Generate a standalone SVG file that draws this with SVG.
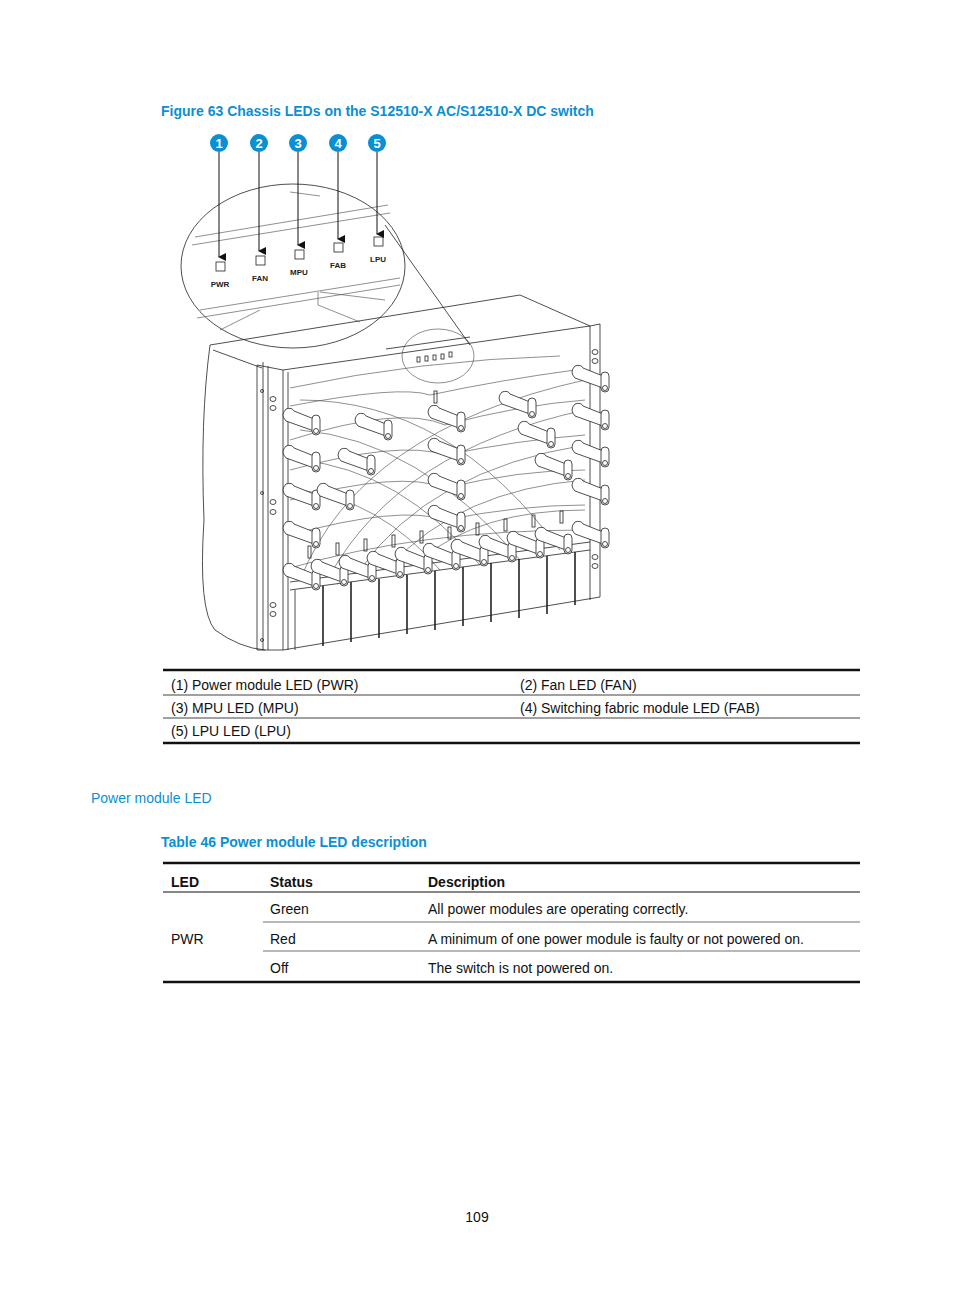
<svg xmlns="http://www.w3.org/2000/svg" width="954" height="1296" viewBox="0 0 954 1296">
<style>
.t{font-family:"Liberation Sans",Arial,sans-serif;font-size:14px;fill:#111}
.b{font-weight:bold}
.blue{fill:#0b8fd3}
.ln{stroke:#222;stroke-width:0.8;fill:none}
.lt{stroke:#444;stroke-width:0.6;fill:none}
.hd{stroke:#222;stroke-width:0.8;fill:#fff}
.badge{fill:#0b8fd3}
.bn{font-family:"Liberation Sans",Arial,sans-serif;font-size:13px;font-weight:bold;fill:#fff;text-anchor:middle}
.ll{font-family:"Liberation Sans",Arial,sans-serif;font-size:8px;font-weight:bold;fill:#222;text-anchor:middle}
</style>
<defs>
<marker id="ah" markerWidth="8" markerHeight="8" refX="4" refY="7" orient="auto" markerUnits="userSpaceOnUse"><path d="M0,0 L8,0 L4,8 Z" fill="#111"/></marker>
<g id="hdl">
<path class="hd" d="M-6,-6 Q-12,0 -6,6 L22,16 L22,4 L2,-4 Q0,-8 -6,-6 Z"/>
<rect class="hd" x="20" y="0" width="8" height="20" rx="4"/>
<circle class="ln" cx="24" cy="16" r="2.5"/>
</g>
</defs>
<rect width="954" height="1296" fill="#fff"/>
<text class="t b blue" x="161" y="116" font-size="16">Figure 63 Chassis LEDs on the S12510-X AC/S12510-X DC switch</text>

<g id="chassis">
<!-- body -->
<path class="ln" d="M210,345 Q200,420 204,520 Q198,610 215,630 Q240,648 265,650"/>
<path class="ln" d="M210,345 L520,295 L590,326"/>
<path class="ln" d="M213,350 L262,368"/>
<path class="ln" d="M283,370 L590,326 L600,324 L600,597 L283,650 Z"/>
<path class="ln" d="M257,365 L257,650 L283,650 M263,362 L263,650 M268,366 L268,650 M257,365 L283,370"/>
<path class="ln" d="M288,372 L288,650" stroke-width="2"/>
<path class="ln" d="M590,326 L590,600" stroke-width="2"/>
<path class="ln" d="M386,349 L470,337"/>
<ellipse class="lt" cx="438" cy="356" rx="36" ry="27"/>
<g class="ln">
<rect x="417" y="357" width="3" height="5"/><rect x="425" y="356" width="3" height="5"/><rect x="433" y="355" width="3" height="5"/><rect x="441" y="354" width="3" height="5"/><rect x="449" y="352" width="3" height="5"/>
</g>
<!-- rail holes -->
<g class="ln">
<ellipse cx="273" cy="399" rx="3" ry="2.5"/><ellipse cx="273" cy="408" rx="3" ry="2.5"/>
<ellipse cx="273" cy="502" rx="3" ry="2.5"/><ellipse cx="273" cy="512" rx="3" ry="2.5"/>
<ellipse cx="273" cy="605" rx="3" ry="2.5"/><ellipse cx="273" cy="614" rx="3" ry="2.5"/>
<ellipse cx="595" cy="352" rx="3" ry="2.5"/><ellipse cx="595" cy="361" rx="3" ry="2.5"/>
<ellipse cx="595" cy="557" rx="3" ry="2.5"/><ellipse cx="595" cy="566" rx="3" ry="2.5"/>
<circle cx="262" cy="391" r="1.5"/><circle cx="262" cy="493" r="1.5"/><circle cx="262" cy="640" r="1.5"/>
</g>
<!-- wavy horizontal lines -->
<g class="lt">
<path d="M290,388 Q420,360 560,356"/>
<path d="M290,406 Q400,385 430,395 Q500,380 575,370"/>
<path d="M290,440 Q400,405 445,425 Q520,405 585,400"/>
<path d="M290,470 Q400,440 445,455 Q520,440 585,435"/>
<path d="M290,500 Q400,470 445,488 Q520,470 585,470"/>
<path d="M290,535 Q400,505 445,520 Q520,505 585,505"/>
<path d="M290,568 Q420,530 585,530"/>
<!-- fan arcs -->
<path d="M300,580 Q360,430 585,380"/>
<path d="M330,575 Q400,450 585,410"/>
<path d="M360,570 Q430,470 585,445"/>
<path d="M390,566 Q460,490 585,480"/>
<path d="M420,560 Q480,510 585,510"/>
<path d="M300,430 Q420,440 520,560"/>
<path d="M300,460 Q400,470 480,565"/>
<path d="M300,490 Q380,500 440,570"/>
<path d="M300,400 Q450,400 560,550"/>
</g>
<!-- bottom slots -->
<path class="ln" d="M290,582 L590,542"/>
<path class="ln" d="M290,590 L590,550"/>
<g class="ln">
<path d="M295,590 V650"/><path d="M323,586 V646" stroke-width="1.6"/><path d="M351,582 V642" stroke-width="1.6"/><path d="M379,579 V638" stroke-width="1.6"/><path d="M407,575 V634" stroke-width="1.6"/><path d="M435,571 V630" stroke-width="1.6"/><path d="M463,567 V626" stroke-width="1.6"/><path d="M491,563 V622" stroke-width="1.6"/><path d="M519,559 V618" stroke-width="1.6"/><path d="M547,556 V614" stroke-width="1.6"/><path d="M575,552 V605" stroke-width="1.6"/>
</g>
<!-- handles -->
<use href="#hdl" x="292" y="415"/><use href="#hdl" x="364" y="420"/>
<use href="#hdl" x="292" y="452"/><use href="#hdl" x="347" y="455"/>
<use href="#hdl" x="292" y="490"/><use href="#hdl" x="326" y="490"/>
<use href="#hdl" x="292" y="528"/>
<use href="#hdl" x="437" y="412"/><use href="#hdl" x="437" y="445"/><use href="#hdl" x="437" y="480"/><use href="#hdl" x="437" y="512"/>
<use href="#hdl" x="508" y="398"/><use href="#hdl" x="527" y="428"/><use href="#hdl" x="544" y="460"/>
<use href="#hdl" x="581" y="372"/><use href="#hdl" x="581" y="410"/><use href="#hdl" x="581" y="447"/><use href="#hdl" x="581" y="485"/><use href="#hdl" x="581" y="528"/>
<use href="#hdl" x="292" y="570"/><use href="#hdl" x="320" y="566"/><use href="#hdl" x="348" y="562"/><use href="#hdl" x="376" y="558"/><use href="#hdl" x="404" y="554"/><use href="#hdl" x="432" y="550"/><use href="#hdl" x="460" y="546"/><use href="#hdl" x="488" y="542"/><use href="#hdl" x="516" y="538"/><use href="#hdl" x="544" y="534"/>
<g class="ln">
<rect x="308" y="546" width="3" height="12"/><rect x="336" y="543" width="3" height="12"/><rect x="364" y="539" width="3" height="12"/><rect x="392" y="535" width="3" height="12"/><rect x="420" y="531" width="3" height="12"/><rect x="448" y="527" width="3" height="12"/><rect x="476" y="523" width="3" height="12"/><rect x="504" y="519" width="3" height="12"/><rect x="532" y="515" width="3" height="12"/><rect x="560" y="511" width="3" height="12"/>
<rect x="434" y="391" width="3" height="12"/>
</g>
</g>

<g id="callout">
<ellipse class="ln" cx="293" cy="266" rx="112" ry="82" fill="#fff"/>
<path class="ln" d="M385,225 L470,345"/>
<path class="lt" d="M192,245 L390,213 M195,237 L388,205 M290,192 L320,196"/>
<path class="lt" d="M197,318 L400,285 M200,310 L400,278 M318,292 L318,305 L360,322 M320,292 L385,300"/>
<path class="lt" d="M220,330 L260,310"/>
</g>
<g id="leds" class="ln">
<rect x="216" y="262" width="9" height="9"/><rect x="256" y="256" width="9" height="9"/><rect x="295" y="250" width="9" height="9"/><rect x="334" y="243" width="9" height="9"/><rect x="374" y="237" width="9" height="9"/>
</g>
<text class="ll" x="220" y="287">PWR</text><text class="ll" x="260" y="281">FAN</text><text class="ll" x="299" y="275">MPU</text><text class="ll" x="338" y="268">FAB</text><text class="ll" x="378" y="262">LPU</text>
<g id="connectors" stroke="#111" stroke-width="1">
<line x1="219" y1="152" x2="219" y2="257" marker-end="url(#ah)"/>
<line x1="259" y1="152" x2="259" y2="251" marker-end="url(#ah)"/>
<line x1="298" y1="152" x2="298" y2="245" marker-end="url(#ah)"/>
<line x1="338" y1="152" x2="338" y2="239" marker-end="url(#ah)"/>
<line x1="377" y1="152" x2="377" y2="234" marker-end="url(#ah)"/>
</g>
<g id="badges">
<circle class="badge" cx="219" cy="143" r="9"/><text class="bn" x="219" y="148">1</text>
<circle class="badge" cx="259" cy="143" r="9"/><text class="bn" x="259" y="148">2</text>
<circle class="badge" cx="298" cy="143" r="9"/><text class="bn" x="298" y="148">3</text>
<circle class="badge" cx="338" cy="143" r="9"/><text class="bn" x="338" y="148">4</text>
<circle class="badge" cx="377" cy="143" r="9"/><text class="bn" x="377" y="148">5</text>
</g>

<g id="legend">
<line x1="163" y1="670" x2="860" y2="670" stroke="#111" stroke-width="2.5"/>
<line x1="163" y1="695" x2="860" y2="695" stroke="#111" stroke-width="0.8"/>
<line x1="163" y1="718" x2="860" y2="718" stroke="#111" stroke-width="0.8"/>
<line x1="163" y1="743" x2="860" y2="743" stroke="#111" stroke-width="2.5"/>
<text class="t" x="171" y="690">(1) Power module LED (PWR)</text>
<text class="t" x="520" y="690">(2) Fan LED (FAN)</text>
<text class="t" x="171" y="713">(3) MPU LED (MPU)</text>
<text class="t" x="520" y="713">(4) Switching fabric module LED (FAB)</text>
<text class="t" x="171" y="736">(5) LPU LED (LPU)</text>
</g>

<text class="t blue" x="91" y="803" font-size="30">Power module LED</text>
<text class="t b blue" x="161" y="847" font-size="16">Table 46 Power module LED description</text>

<g id="table">
<line x1="163" y1="863" x2="860" y2="863" stroke="#111" stroke-width="2.5"/>
<line x1="163" y1="892" x2="860" y2="892" stroke="#111" stroke-width="1.2"/>
<line x1="263" y1="922" x2="860" y2="922" stroke="#111" stroke-width="0.6"/>
<line x1="263" y1="951" x2="860" y2="951" stroke="#111" stroke-width="0.6"/>
<line x1="163" y1="982" x2="860" y2="982" stroke="#111" stroke-width="2.5"/>
<text class="t b" x="171" y="887">LED</text>
<text class="t b" x="270" y="887">Status</text>
<text class="t b" x="428" y="887">Description</text>
<text class="t" x="171" y="944">PWR</text>
<text class="t" x="270" y="914">Green</text>
<text class="t" x="428" y="914">All power modules are operating correctly.</text>
<text class="t" x="270" y="944">Red</text>
<text class="t" x="428" y="944">A minimum of one power module is faulty or not powered on.</text>
<text class="t" x="270" y="973">Off</text>
<text class="t" x="428" y="973">The switch is not powered on.</text>
</g>
<text class="t" x="477" y="1222" text-anchor="middle">109</text>
</svg>
